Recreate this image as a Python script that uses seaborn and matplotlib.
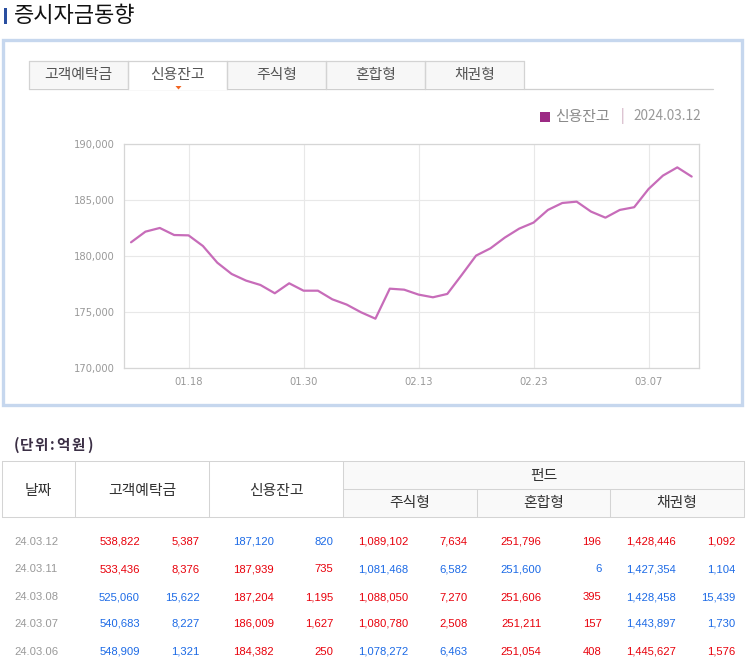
import matplotlib
matplotlib.use("Agg")
import matplotlib.pyplot as plt
from matplotlib.patches import Rectangle, Polygon
from matplotlib.lines import Line2D
import pandas as pd
import seaborn as sns

# chart data: 신용잔고 (억원), trading days 2024.01.12 ~ 2024.03.12
chart_dates = ['01.12', '01.15', '01.16', '01.17', '01.18', '01.19', '01.22', '01.23',
               '01.24', '01.25', '01.26', '01.29', '01.30', '01.31', '02.01', '02.02',
               '02.05', '02.06', '02.07', '02.08', '02.13', '02.14', '02.15', '02.16',
               '02.19', '02.20', '02.21', '02.22', '02.23', '02.26', '02.27', '02.28',
               '02.29', '03.04', '03.05', '03.06', '03.07', '03.08', '03.11', '03.12']
credit = [181250, 182200, 182530, 181900, 181870, 180920, 179430, 178420,
          177830, 177440, 176700, 177590, 176930, 176930, 176160, 175690,
          175000, 174430, 177110, 177020, 176580, 176340, 176640, 178330,
          180060, 180710, 181670, 182470, 183010, 184140, 184760, 184880,
          183990, 183450, 184140, 184382, 186009, 187204, 187939, 187120]
tick_dates = ['01.18', '01.30', '02.13', '02.23', '03.07']
y_ticks = [170000, 175000, 180000, 185000, 190000]

tabs = ['고객예탁금', '신용잔고', '주식형', '혼합형', '채권형']

# table data (signed change -> red up / blue down)
tbl_dates = ['24.03.12', '24.03.11', '24.03.08', '24.03.07', '24.03.06']
deposit = [538822, 533436, 525060, 540683, 548909]
deposit_chg = [5387, 8376, -15622, -8227, -1321]
credit_bal = [187120, 187939, 187204, 186009, 184382]
credit_chg = [-820, 735, 1195, 1627, 250]
stock_fund = [1089102, 1081468, 1088050, 1080780, 1078272]
stock_chg = [7634, -6582, 7270, 2508, -6463]
mixed_fund = [251796, 251600, 251606, 251211, 251054]
mixed_chg = [196, -6, 395, 157, 408]
bond_fund = [1428446, 1427354, 1428458, 1443897, 1445627]
bond_chg = [1092, -1104, -15439, -1730, 1576]

W, H = 746, 665
KR = 10.7  # korean label size

def fx(x):
    return x / W

def fy(y):
    return 1 - y / H

sns.set_style("white")
plt.rcParams['font.family'] = ['Noto Sans CJK KR', 'DejaVu Sans']

fig = plt.figure(figsize=(W / 100, H / 100), dpi=100)

def rect(x0, y0, x1, y1, **kw):
    fig.add_artist(Rectangle((fx(x0), fy(y1)), (x1 - x0) / W, (y1 - y0) / H,
                             transform=fig.transFigure, **kw))

def hline(x0, x1, y, color='#d4d4d4', lw=0.75, z=4):
    fig.add_artist(Line2D([fx(x0), fx(x1)], [fy(y), fy(y)], transform=fig.transFigure,
                          color=color, lw=lw, zorder=z))

def vline(x, y0, y1, color='#d4d4d4', lw=0.75, z=4):
    fig.add_artist(Line2D([fx(x), fx(x)], [fy(y0), fy(y1)], transform=fig.transFigure,
                          color=color, lw=lw, zorder=z))

def txt(x, y, s, **kw):
    kw.setdefault('va', 'center')
    kw.setdefault('zorder', 6)
    fig.text(fx(x), fy(y), s, **kw)

# title
rect(4, 8, 6.8, 24, facecolor='#2a4fa0', edgecolor='none')
txt(14, 16, '증시자금동향', fontsize=15.9, color='#111111')

# outer box
rect(3.3, 40, 741.5, 404.5, facecolor='none', edgecolor='#c6d7ee', lw=2.4)

# tabs
hline(29, 713, 89, color='#cfcfcf', lw=0.9, z=3)
for i, t in enumerate(tabs):
    x0 = 29 + 99 * i
    x1 = x0 + 99 if i < 4 else 524
    sel = (t == '신용잔고')
    rect(x0, 61, x1, 89.6 if sel else 89, facecolor='white' if sel else '#f7f7f7',
         edgecolor='none', zorder=3.5)
    vline(x0, 61, 89, color='#d3d3d3', lw=0.9)
    vline(x1, 61, 89, color='#d3d3d3', lw=0.9)
    hline(x0, x1, 61, color='#d3d3d3', lw=0.9)
    txt((x0 + x1) / 2, 75, t, fontsize=KR, color='#555555', ha='center')
fig.add_artist(Polygon([[fx(175.5), fy(86)], [fx(181.5), fy(86)], [fx(178.5), fy(89.5)]],
                       closed=True, transform=fig.transFigure, facecolor='#f26522',
                       edgecolor='none', zorder=5))

# legend
rect(540, 112, 549.5, 121.5, facecolor='#9c2a84', edgecolor='none')
txt(555, 116.5, '신용잔고', fontsize=KR, color='#8a8a8a')
txt(621, 116.5, '|', fontsize=9.8, color='#c9a3b8')
txt(633, 116.5, '2024.03.12', fontsize=9.8, color='#999999')

# line chart
ax = fig.add_axes([fx(124), fy(368.3), (699 - 124) / W, (368.3 - 144.3) / H])
df = pd.DataFrame({'idx': range(len(credit)), 'credit': credit})
sns.lineplot(data=df, x='idx', y='credit', ax=ax, color='#c76cb9', linewidth=1.6)
ax.set_xlim(-0.49, len(credit) - 0.49)
ax.set_ylim(170000, 190000)
ax.set_xticks([chart_dates.index(d) for d in tick_dates])
ax.set_xticklabels(tick_dates)
ax.set_yticks(y_ticks)
ax.set_yticklabels([f'{v:,}' for v in y_ticks])
ax.set_xlabel('')
ax.set_ylabel('')
ax.grid(True, color='#e8e8e8', lw=0.8)
for s in ax.spines.values():
    s.set_color('#d6d6d6')
    s.set_linewidth(0.9)
ax.tick_params(axis='both', length=3.6, width=0.7, color='#d0d0d0', labelcolor='#999999',
               labelsize=7.2)
ax.tick_params(axis='y', pad=2.8)
ax.tick_params(axis='x', pad=3)
for lab in ax.get_xticklabels() + ax.get_yticklabels():
    lab.set_fontfamily('DejaVu Sans')

# unit caption, spaced out like the page
unit_chars = ['(', '단', '위', ':', '억', '원', ')']
unit_x = [14, 19.5, 34, 50, 56, 71, 87]
for ch, x in zip(unit_chars, unit_x):
    txt(x, 445, ch, fontsize=10.5, fontweight='bold', color='#3b2f45')

# table header
rect(343, 460.5, 744, 516.5, facecolor='#f9f9f9', edgecolor='none', zorder=1)
hline(2, 744, 460.5)
hline(2, 744, 516.5)
hline(343, 744, 488.5)
for x in [2, 75, 209, 343, 744]:
    vline(x, 460.5, 516.5)
for x in [477, 610]:
    vline(x, 488.5, 516.5)
hdr = dict(fontsize=KR, color='#333333', ha='center')
txt(38.5, 490.5, '날짜', **hdr)
txt(142, 490.5, '고객예탁금', **hdr)
txt(276, 490.5, '신용잔고', **hdr)
txt(543.5, 476, '펀드', **hdr)
txt(410, 503.5, '주식형', **hdr)
txt(543.5, 503.5, '혼합형', **hdr)
txt(677, 503.5, '채권형', **hdr)

# table rows
RED, BLUE = '#e8000b', '#1c6ae6'
num = dict(fontsize=8.1, family='Liberation Sans', va='baseline')
cols = [(deposit, deposit_chg, 140, 199.5), (credit_bal, credit_chg, 274, 333.5),
        (stock_fund, stock_chg, 408, 467.5), (mixed_fund, mixed_chg, 541.5, 601.5),
        (bond_fund, bond_chg, 675.5, 735.5)]
row_y = [541, 568, 596, 623, 651]
for r, y in enumerate(row_y):
    yb = y + 4
    txt(14, yb, tbl_dates[r], color='#999999', ha='left', **num)
    for vals, chg, xv, xc in cols:
        c = RED if chg[r] > 0 else BLUE
        txt(xv, yb, f'{vals[r]:,}', color=c, ha='right', **num)
        txt(xc, yb, f'{abs(chg[r]):,}', color=c, ha='right', **num)

fig.savefig('out.png', dpi=100)
